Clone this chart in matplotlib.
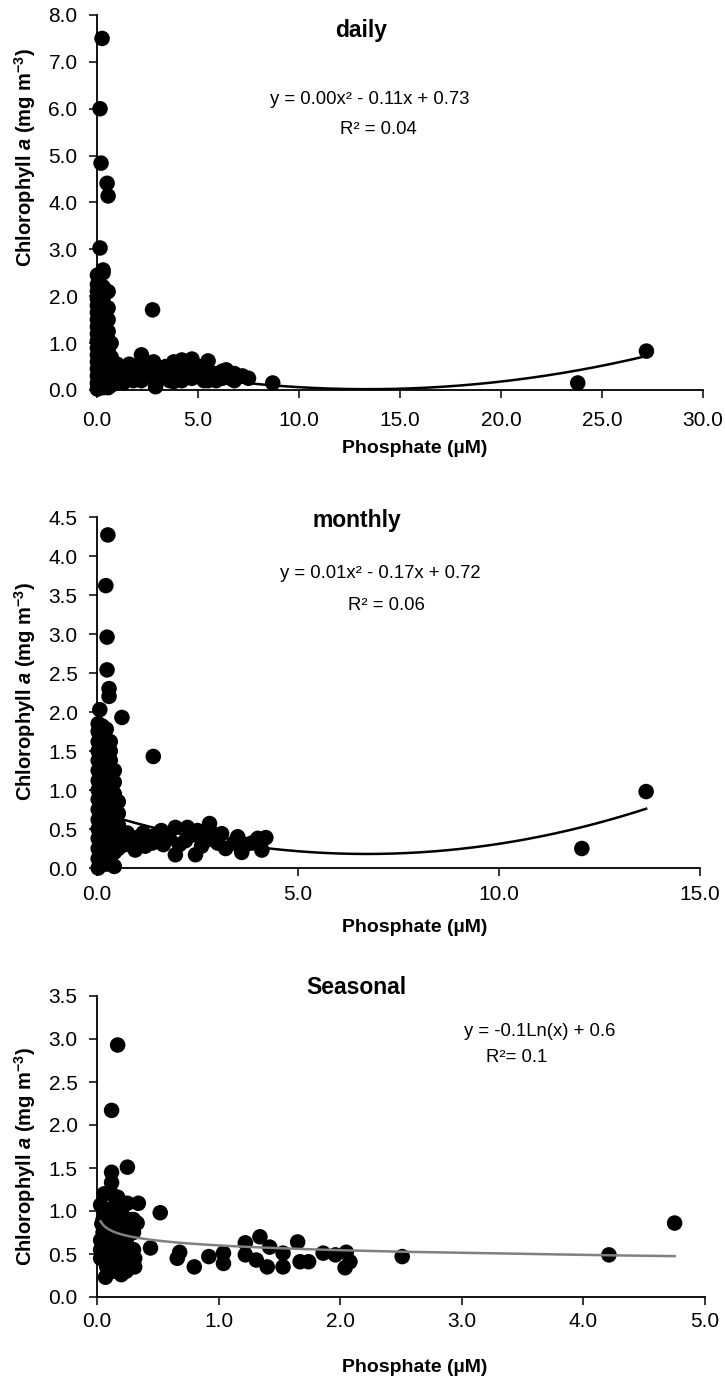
import numpy as np
import matplotlib
matplotlib.use("Agg")
import matplotlib.pyplot as plt

plt.rcParams['font.family'] = ['Liberation Sans', 'DejaVu Sans']
plt.rcParams['mathtext.fontset'] = 'custom'
plt.rcParams['mathtext.rm'] = 'Liberation Sans:bold'
plt.rcParams['mathtext.it'] = 'Liberation Sans:bold:italic'
plt.rcParams['mathtext.bf'] = 'Liberation Sans:bold'

# ---- daily ----
daily_po4 = [0.25, 0.15, 0.2, 0.5, 0.55, 0.15, 0.3, 2.75,
             0.02, 0.02, 0.02, 0.02, 0.02, 0.02, 0.02, 0.02, 0.02, 0.02, 0.02, 0.02, 0.02, 0.02, 0.02, 0.02, 0.02,
             0.3, 0.3, 0.3, 0.3, 0.3, 0.3, 0.3, 0.3, 0.3, 0.3, 0.3, 0.3, 0.3, 0.3, 0.3,
             0.55, 0.55, 0.55, 0.55, 0.55, 0.55, 0.55, 0.55, 0.55, 0.55,
             0.7, 0.7, 0.7, 0.7,
             0.8, 0.8, 1.0, 1.0, 1.0, 1.2, 1.3, 1.3, 1.5, 1.6, 1.6, 1.8, 1.9, 1.9, 2.0,
             2.2, 2.2, 2.2, 2.4, 2.5, 2.5, 2.7, 2.8, 2.9, 2.8, 3.0, 3.1, 3.1, 3.3, 3.4, 3.4,
             3.6, 3.6, 3.8, 3.8, 3.8, 4.0, 4.2, 4.2, 4.2, 4.4, 4.5, 4.7, 4.7, 4.7, 4.9,
             5.1, 5.1, 5.3, 5.5, 5.5, 5.5, 5.7, 5.9, 5.9, 6.2, 6.2, 6.4, 6.4, 6.6, 6.8, 6.8,
             7.0, 7.2, 7.5, 8.7, 23.8, 27.2]
daily_chl = [7.5, 6.0, 4.84, 4.41, 4.14, 3.03, 2.56, 1.71,
             0.02, 0.15, 0.3, 0.45, 0.6, 0.75, 0.9, 1.05, 1.2, 1.35, 1.5, 1.65, 1.8, 1.95, 2.1, 2.25, 2.45,
             0.05, 0.2, 0.35, 0.5, 0.7, 0.85, 1.0, 1.2, 1.4, 1.55, 1.75, 1.9, 2.05, 2.2, 2.5,
             0.05, 0.25, 0.45, 0.65, 0.85, 1.05, 1.25, 1.5, 1.75, 2.1,
             0.1, 0.4, 0.7, 1.0,
             0.25, 0.5, 0.3, 0.15, 0.55, 0.35, 0.15, 0.45, 0.25, 0.35, 0.55, 0.2, 0.25, 0.5, 0.35,
             0.75, 0.4, 0.2, 0.3, 0.3, 0.55, 0.45, 0.6, 0.07, 0.35, 0.2, 0.25, 0.45, 0.35, 0.3, 0.5,
             0.2, 0.45, 0.6, 0.35, 0.18, 0.5, 0.64, 0.4, 0.2, 0.3, 0.5, 0.66, 0.45, 0.25, 0.35,
             0.3, 0.5, 0.2, 0.62, 0.4, 0.2, 0.3, 0.35, 0.2, 0.4, 0.25, 0.43, 0.3, 0.25, 0.35, 0.2,
             0.28, 0.3, 0.25, 0.15, 0.15, 0.83]
daily_fit = [0.0037, -0.099, 0.68]

# ---- monthly ----
monthly_po4 = [0.27, 0.22, 0.25, 0.25, 0.3, 0.3, 0.07, 0.62, 1.4, 12.06, 13.66,
               0.03, 0.03, 0.03, 0.03, 0.03, 0.03, 0.03, 0.03, 0.03, 0.03, 0.03, 0.03, 0.03, 0.03, 0.03, 0.03,
               0.13, 0.13, 0.13, 0.13, 0.13, 0.13, 0.13, 0.13, 0.13, 0.13, 0.13, 0.13, 0.13, 0.13, 0.13,
               0.23, 0.23, 0.23, 0.23, 0.23, 0.23, 0.23, 0.23, 0.23, 0.23, 0.23, 0.23, 0.23, 0.23, 0.23,
               0.33, 0.33, 0.33, 0.33, 0.33, 0.33, 0.33, 0.33, 0.33, 0.33, 0.33, 0.33, 0.33,
               0.43, 0.43, 0.43, 0.43, 0.43, 0.43, 0.43, 0.43, 0.43,
               0.53, 0.53, 0.53, 0.53, 0.53,
               0.7, 0.75, 0.9, 0.95, 1.0, 1.15, 1.2, 1.37, 1.45, 1.6, 1.65, 1.8, 1.95, 1.95,
               2.05, 2.2, 2.25, 2.35, 2.45, 2.5, 2.6, 2.7, 2.8, 2.85, 3.0, 3.1, 3.2, 3.4,
               3.5, 3.6, 3.7, 3.85, 4.0, 4.1, 4.2]
monthly_chl = [4.27, 3.62, 2.96, 2.54, 2.3, 2.2, 2.03, 1.93, 1.43, 0.25, 0.98,
               0.0, 0.12, 0.25, 0.38, 0.5, 0.62, 0.75, 0.88, 1.0, 1.12, 1.25, 1.38, 1.5, 1.62, 1.75, 1.85,
               0.08, 0.2, 0.32, 0.45, 0.58, 0.7, 0.82, 0.95, 1.08, 1.2, 1.32, 1.45, 1.58, 1.7, 1.82,
               0.05, 0.15, 0.28, 0.4, 0.52, 0.65, 0.78, 0.9, 1.02, 1.15, 1.28, 1.4, 1.52, 1.65, 1.78,
               0.12, 0.25, 0.38, 0.5, 0.62, 0.75, 0.88, 1.0, 1.12, 1.25, 1.38, 1.5, 1.62,
               0.02, 0.2, 0.35, 0.5, 0.65, 0.8, 0.95, 1.1, 1.25,
               0.25, 0.4, 0.55, 0.7, 0.85,
               0.3, 0.45, 0.35, 0.23, 0.39, 0.45, 0.28, 0.32, 0.42, 0.48, 0.3, 0.38, 0.52, 0.17,
               0.3, 0.35, 0.52, 0.42, 0.17, 0.48, 0.28, 0.35, 0.57, 0.45, 0.32, 0.44, 0.25, 0.32,
               0.4, 0.2, 0.3, 0.32, 0.38, 0.23, 0.39]
monthly_fit = [0.012, -0.161, 0.72]

# ---- seasonal ----
seasonal_po4 = [0.17, 0.12, 0.12, 0.25, 0.34, 0.52, 0.33, 0.44, 0.68, 0.66, 0.8, 0.92,
                1.04, 1.04, 1.22, 1.22, 1.34, 1.31, 1.4, 1.42, 1.53, 1.53, 1.65, 1.67, 1.74,
                1.86, 1.96, 2.05, 2.04, 2.08, 2.51, 4.21, 4.75,
                0.07, 0.2, 0.03, 0.03, 0.03, 0.12, 0.17, 0.25, 0.31, 0.31, 0.3,
                0.03, 0.05, 0.05, 0.08, 0.08, 0.1, 0.1, 0.1, 0.12, 0.13, 0.14, 0.15, 0.16,
                0.18, 0.18, 0.2, 0.2, 0.22, 0.22, 0.24, 0.25, 0.27, 0.28, 0.3, 0.06, 0.14,
                0.1, 0.15, 0.25, 0.28, 0.06, 0.12, 0.22, 0.18, 0.3, 0.04]
seasonal_chl = [2.93, 2.17, 1.45, 1.51, 1.09, 0.98, 0.86, 0.57, 0.52, 0.45, 0.35, 0.47,
                0.39, 0.51, 0.49, 0.63, 0.7, 0.43, 0.35, 0.58, 0.35, 0.51, 0.64, 0.41, 0.41,
                0.51, 0.49, 0.52, 0.34, 0.41, 0.47, 0.49, 0.86,
                0.23, 0.26, 0.45, 0.66, 1.07, 1.33, 1.16, 1.09, 0.35, 0.45, 0.75,
                0.55, 0.75, 0.9, 0.35, 0.6, 0.45, 0.8, 1.0, 1.2, 0.3, 0.65, 0.9, 0.5,
                0.38, 0.75, 1.0, 0.6, 0.45, 0.85, 0.3, 0.7, 0.55, 0.4, 0.9, 1.2, 1.05,
                0.3, 0.35, 0.45, 0.9, 1.0, 0.55, 0.65, 1.1, 0.55, 0.85]
seasonal_fit = [-0.08, 0.6]

W, H = 725, 1378
fig = plt.figure(figsize=(W / 100, H / 100), dpi=100)


def fx(px):
    return px / W


def fy(py):
    return 1 - py / H


def make_ax(left, top, right, bottom, xpad):
    ax = fig.add_axes([fx(left), fy(bottom), (right - left) / W, (bottom - top) / H])
    for s in ['top', 'right']:
        ax.spines[s].set_visible(False)
    for s in ['left', 'bottom']:
        ax.spines[s].set_linewidth(1.3)
    ax.tick_params(direction='out', length=6, width=1.1, labelsize=15)
    ax.tick_params(axis='y', pad=8)
    ax.tick_params(axis='x', pad=xpad)
    ax.xaxis.set_major_formatter(matplotlib.ticker.FormatStrFormatter('%.1f'))
    ax.yaxis.set_major_formatter(matplotlib.ticker.FormatStrFormatter('%.1f'))
    return ax


def labels(xlab_y, ylab_y):
    fig.text(fx(415), fy(xlab_y), 'Phosphate (\u00b5M)', ha='center', va='center',
             fontsize=14, fontweight='bold')
    fig.text(fx(25), fy(ylab_y), r'Chlorophyll $\mathit{a}$ (mg m$^{-3}$)', ha='center',
             va='center', rotation=90, fontsize=14.5, fontweight='bold')


dot = dict(s=125, c='black', edgecolors='none', clip_on=False, zorder=3)

# daily
ax1 = make_ax(97, 15, 703, 390, 9)
ax1.scatter(daily_po4, daily_chl, **dot)
xf = np.linspace(min(daily_po4), max(daily_po4), 200)
ax1.plot(xf, np.polyval(daily_fit, xf), color='black', lw=1.8, zorder=4)
ax1.set_xlim(0, 30)
ax1.set_ylim(0, 8)
ax1.set_xticks(np.arange(0, 31, 5))
ax1.set_yticks(np.arange(0, 8.1, 1))
fig.text(fx(361), fy(30), 'daily', ha='center', va='center', fontsize=16.5, fontweight='bold')
fig.text(fx(370), fy(100), 'y = 0.00x\u00b2 - 0.11x + 0.73', ha='center', va='center', fontsize=13.3)
fig.text(fx(378), fy(130), 'R\u00b2 = 0.04', ha='center', va='center', fontsize=13.3)
labels(449, 157)

# monthly
ax2 = make_ax(97, 517, 700, 868, 6.5)
ax2.scatter(monthly_po4, monthly_chl, **dot)
xf = np.linspace(0.3, max(monthly_po4), 200)
ax2.plot(xf, np.polyval(monthly_fit, xf), color='black', lw=1.8, zorder=4)
ax2.set_xlim(0, 15)
ax2.set_ylim(0, 4.5)
ax2.set_xticks(np.arange(0, 15.1, 5))
ax2.set_yticks(np.arange(0, 4.51, 0.5))
fig.text(fx(357), fy(520), 'monthly', ha='center', va='center', fontsize=16.5, fontweight='bold')
fig.text(fx(380), fy(574), 'y = 0.01x\u00b2 - 0.17x + 0.72', ha='center', va='center', fontsize=13.3)
fig.text(fx(386), fy(605), 'R\u00b2 = 0.06', ha='center', va='center', fontsize=13.3)
labels(927, 691)

# seasonal
ax3 = make_ax(97, 996, 705, 1297, 5)
ax3.scatter(seasonal_po4, seasonal_chl, **dot)
xs = np.sort(np.unique(seasonal_po4))
ax3.plot(xs, seasonal_fit[1] + seasonal_fit[0] * np.log(xs), color='#808080', lw=1.8, zorder=4)
ax3.set_xlim(0, 5)
ax3.set_ylim(0, 3.5)
ax3.set_xticks(np.arange(0, 5.1, 1))
ax3.set_yticks(np.arange(0, 3.51, 0.5))
fig.text(fx(356), fy(988), 'Seasonal', ha='center', va='center', fontsize=16.5, fontweight='bold')
fig.text(fx(540), fy(1032), 'y = -0.1Ln(x) + 0.6', ha='center', va='center', fontsize=13.3)
fig.text(fx(517), fy(1057), 'R\u00b2= 0.1', ha='center', va='center', fontsize=13.3)
labels(1367, 1156)

fig.savefig('out.png', dpi=100)
